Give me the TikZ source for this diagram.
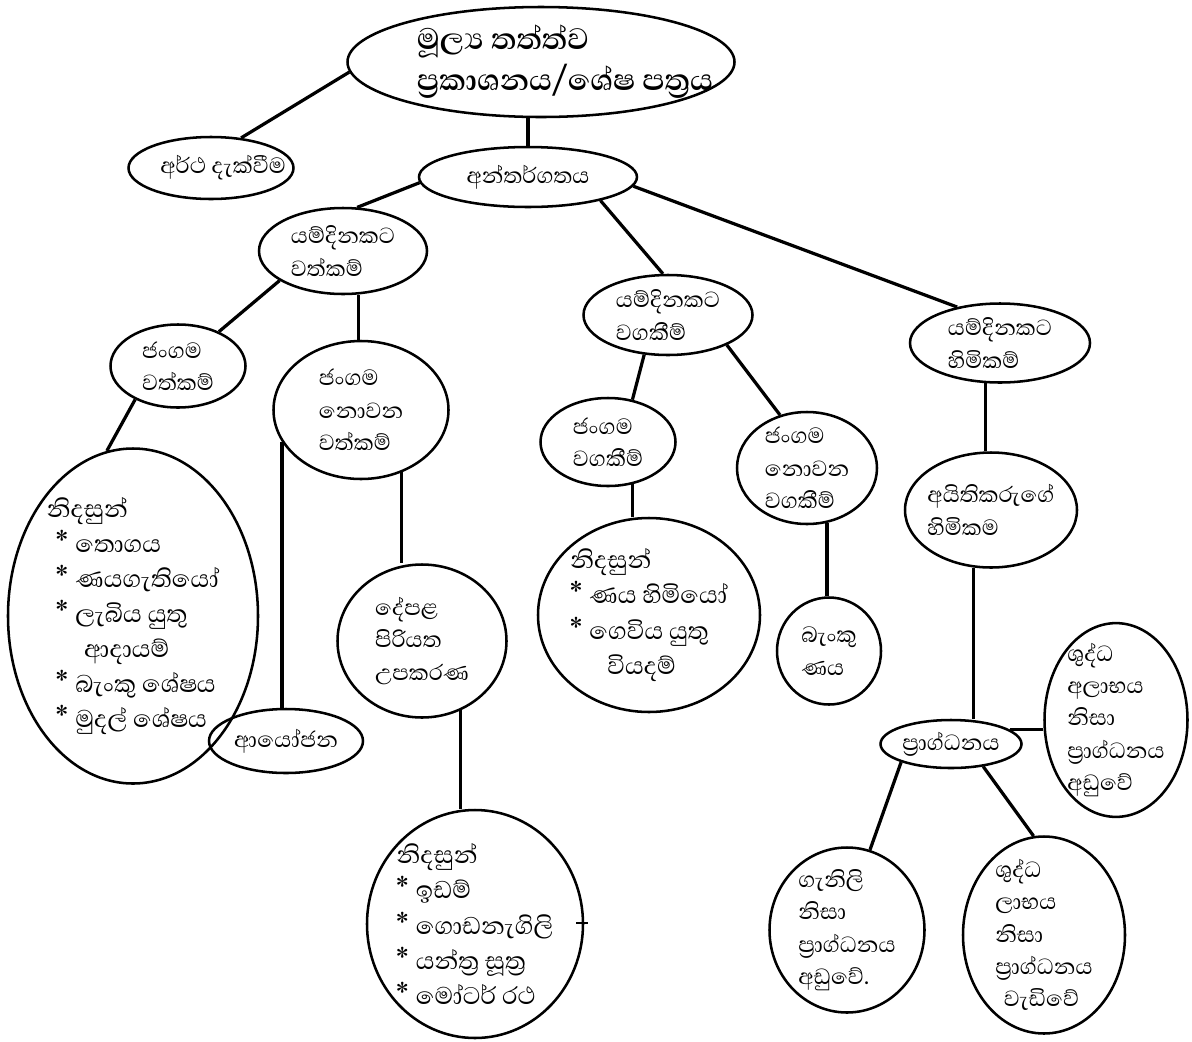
\documentclass[tikz,border=0pt]{standalone}
\usepackage{fontspec}
\usepackage{tikz}
\usetikzlibrary{shapes.geometric}
\newfontfamily\sinhala[Script=Sinhala]{Abhaya Libre}
\newcommand{\mk}{{\fontsize{25}{25}\selectfont*}\hspace{0.25em}}
\tikzset{every picture/.style={x=0.025cm, y=-0.025cm}}
\tikzset{
  bubble/.style 2 args={ellipse, draw, line width=1.8pt, inner sep=-6pt, align=left,
    minimum width=#1*0.025cm, minimum height=#2*0.025cm,
    font=\sinhala\fontsize{20}{23}\selectfont},
  listfont/.style={font=\sinhala\fontsize{22}{25}\selectfont},
  link/.style={line width=2.3pt}
}

\begin{document}
\begin{tikzpicture}
        \useasboundingbox (0,0) rectangle (1192,1041);

        % top of the chart
        \node[bubble={387}{110}, inner xsep=-30pt, font=\sinhala\bfseries\fontsize{27}{29}\selectfont] (root) at (541,62)
            {\hspace*{1.2cm}මූල්^^^^200dය තත්ත්ව\\\hspace*{1.2cm}ප්^^^^200dරකාශනය/ශේෂ පත්^^^^200dරය};
        \node[bubble={165}{62}, inner xsep=-14pt] (arth) at (211,168) {\hspace*{0.6cm}අර්ථ දැක්වීම};
        \node[bubble={218}{60}] (antar) at (528,177) {අන්තර්ගතය};

        % assets
        \node[bubble={168}{86}] (assets) at (343,251) {යම්දිනකට\\වත්කම්};
        \node[bubble={135}{83}] (curasset) at (178,366) {ජංගම\\වත්කම්};
        \node[bubble={175}{138}] (ncasset) at (361,410) {ජංගම\\නොවන\\වත්කම්};
        \node[bubble={250}{335}, listfont] (ex1) at (133,616)
            {නිදසුන්\\\hspace*{0.3em}\mk තොගය\\\hspace*{0.3em}\mk ණයගැතියෝ\\\hspace*{0.3em}\mk ලැබිය යුතු\\\hspace*{1.2em}ආදායම්\\\hspace*{0.3em}\mk බැංකු ශේෂය\\\hspace*{0.3em}\mk මුදල් ශේෂය};
        \node[bubble={154}{64}] (invest) at (286,741) {ආයෝජන};
        \node[bubble={169}{153}] (ppe) at (422,641) {දේපළ\\පිරියත\\උපකරණ};
        \node[bubble={216}{228}, listfont] (ex2) at (475,924)
            {නිදසුන්\\\mk ඉඩම්\\\mk ගොඩනැගිලි\\\mk යන්ත්^^^^200dර සූත්^^^^200dර\\\mk මෝටර් රථ};

        % liabilities
        \node[bubble={169}{80}] (liab) at (668,315) {යම්දිනකට\\වගකීම්};
        \node[bubble={135}{88}] (curliab) at (608,442) {ජංගම\\වගකීම්};
        \node[bubble={140}{112}] (ncliab) at (807,468) {ජංගම\\නොවන\\වගකීම්};
        \node[bubble={222}{194}, listfont] (ex3) at (649,615)
            {නිදසුන්\\\mk ණය හිමියෝ\\\mk ගෙවිය යුතු\\\hspace*{1.2em}වියදම්};
        \node[bubble={104}{107}] (bank) at (829,651) {බැංකු\\ණය};

        % equity
        \node[bubble={180}{79}] (equity) at (1000,343) {යම්දිනකට\\හිමිකම්};
        \node[bubble={172}{115}] (owner) at (991,510) {අයිතිකරුගේ\\හිමිකම};
        \node[bubble={141}{48}] (capital) at (951,744) {ප්^^^^200dරාග්ධනය};
        \node[bubble={143}{160}] (netloss) at (1116,720)
            {ශුද්ධ\\අලාභය\\නිසා\\ප්^^^^200dරාග්ධනය\\අඩුවේ};
        \node[bubble={155}{165}] (drawings) at (847,930)
            {ගැනිලි\\නිසා\\ප්^^^^200dරාග්ධනය\\අඩුවේ.};
        \node[bubble={162}{197}] (netprofit) at (1044,935)
            {ශුද්ධ\\ලාභය\\නිසා\\ප්^^^^200dරාග්ධනය\\\hspace*{0.3em}වැඩිවේ};

        % connectors
        \draw[link] (root.183) -- (arth.45);
        \draw[link] (antar.north) -- (antar.north |- root.south);
        \draw[link] (antar.183) -- (assets.72);
        \draw[link] (antar.342) -- (liab.97);
        \draw[link] (antar.355) -- (equity.140);

        \draw[link] (assets.205) -- (curasset.40);
        \draw[link] (assets.290) -- (assets.290 |- ncasset.north);
        \draw[link] (curasset.218) -- (ex1.99);
        \draw[link] (ncasset.202) -- (ncasset.202 |- invest.north);
        \draw[link] (ncasset.303) -- (ncasset.303 |- ppe.north);
        \draw[link] (ppe.299) -- (ppe.299 |- ex2.north);
        \draw[line width=1pt] (ex2.east) ++(-8,-1) -- ++(12,0);

        \draw[link] (liab.239) -- (curliab.60);
        \draw[link] (liab.333) -- (ncliab.117);
        \draw[link] (curliab.300) -- (curliab.300 |- ex3.north);
        \draw[link] (ncliab.290) -- (ncliab.290 |- bank.north);

        \draw[link] (equity.250) -- (equity.250 |- owner.north);
        \draw[link] (owner.253) -- (owner.253 |- capital.north);
        \draw[link] (capital.14) -- (capital.14 -| netloss.west);
        \draw[link] (capital.200) -- (drawings.74);
        \draw[link] (capital.325) -- (netprofit.96);
\end{tikzpicture}
\end{document}
